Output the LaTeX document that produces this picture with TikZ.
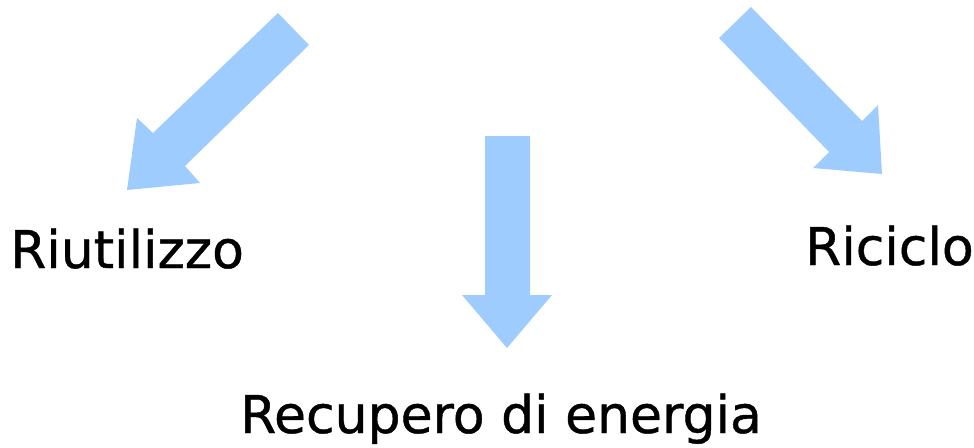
\documentclass[tikz,border=0pt]{standalone}
\usepackage{fontspec}
\setmainfont[FakeBold=0.8]{DejaVu Sans}
\definecolor{arrowblue}{HTML}{9ECCFF}
\begin{document}
\begin{tikzpicture}[x=1pt,y=-1pt,
  blockarrow/.style={fill=arrowblue,draw=none},
  label/.style={anchor=base west,inner sep=0pt,font=\fontsize{52}{60}\selectfont}]
\useasboundingbox (0,0) rectangle (974,447);
% left arrow
\fill[blockarrow] (278,13) -- (309,45) -- (185,166) -- (200,183) -- (127,190) -- (137,118) -- (153,133) -- cycle;
% middle arrow
\fill[blockarrow] (485,136) -- (530,136) -- (530,295) -- (552,295) -- (507,348) -- (462,295) -- (485,295) -- cycle;
% right arrow
\fill[blockarrow] (751,7) -- (719,38) -- (829,152) -- (813,168) -- (882,174) -- (878,105) -- (862,121) -- cycle;
\node[label] (riuso) at (10,268) {Riutilizzo};
\node[label] (riciclo) at (805,265) {Riciclo};
\node[label] (recupero) at (240,433) {Recupero di energia};
\end{tikzpicture}
\end{document}
